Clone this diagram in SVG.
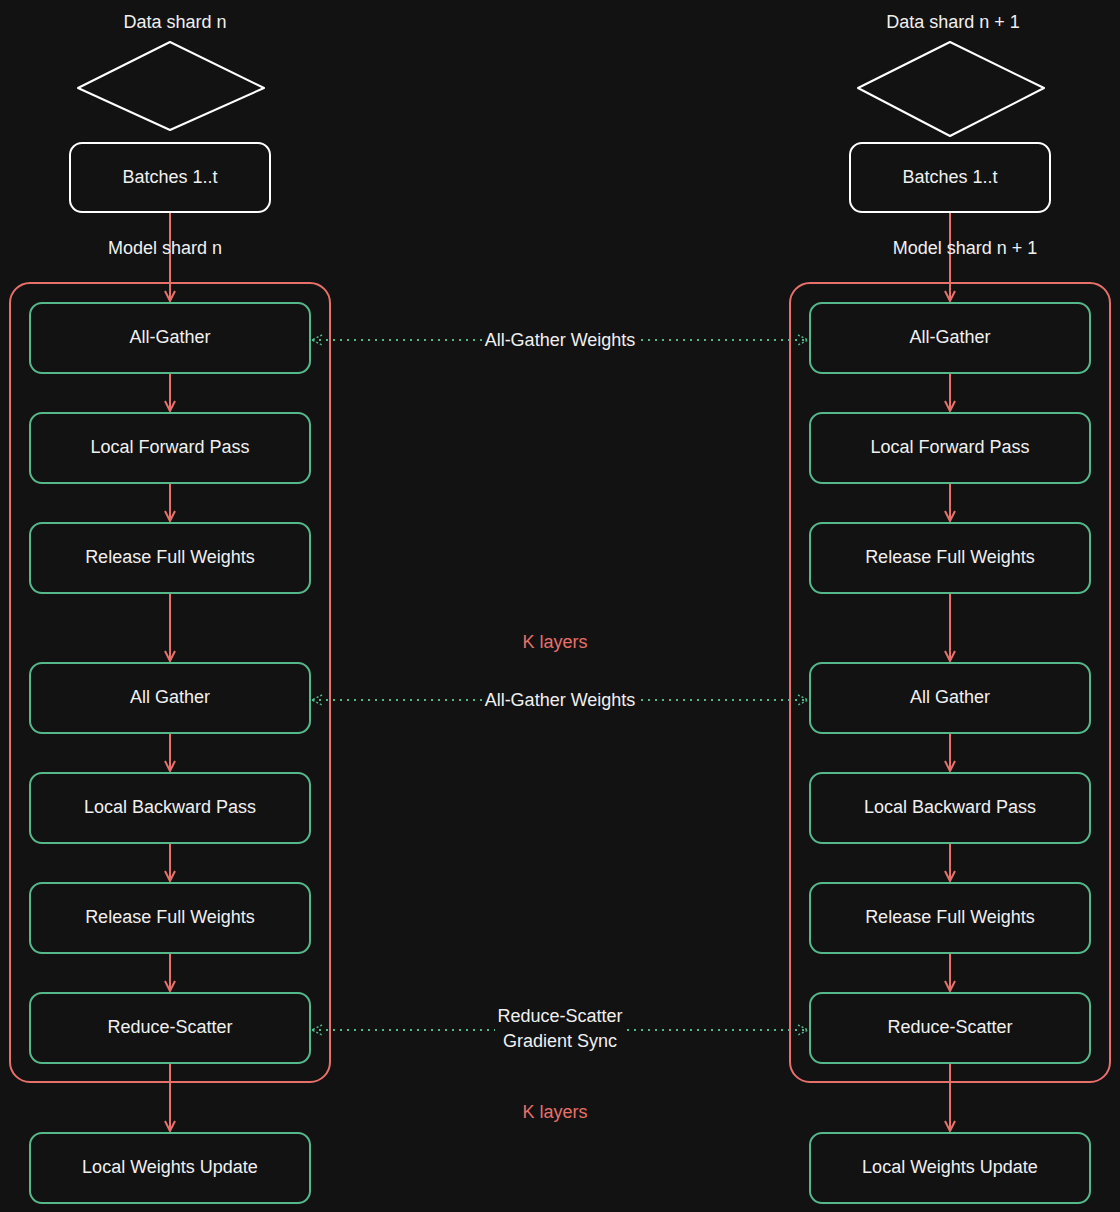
<svg xmlns="http://www.w3.org/2000/svg" width="1120" height="1212" viewBox="0 0 1120 1212">
<defs>
<style>
text{font-family:"Liberation Sans",Arial,sans-serif;font-size:18px;fill:#f0f0f0;text-anchor:middle;dominant-baseline:central}
.g{fill:none;stroke:#55b88a;stroke-width:2}
.r{fill:none;stroke:#e8706a;stroke-width:2}
.w{fill:none;stroke:#ffffff;stroke-width:2}
.a{stroke:#e8706a;stroke-width:2;fill:none;marker-end:url(#ra)}
.d{stroke:#55b88a;stroke-width:2;stroke-dasharray:2 5;fill:none;marker-start:url(#gs);marker-end:url(#ge)}
.k{fill:#e8706a}
</style>
<marker id="ra" viewBox="0 0 12 12" refX="11" refY="6" markerWidth="12" markerHeight="12" markerUnits="userSpaceOnUse" orient="auto"><path d="M1,1 L11,6 L1,11" fill="none" stroke="#e8706a" stroke-width="2"/></marker>
<marker id="ge" viewBox="0 0 12 12" refX="11" refY="6" markerWidth="12" markerHeight="12" markerUnits="userSpaceOnUse" orient="auto"><path d="M1,1 L11,6 L1,11" fill="none" stroke="#55b88a" stroke-width="1.5" stroke-dasharray="2 2"/></marker>
<marker id="gs" viewBox="0 0 12 12" refX="1" refY="6" markerWidth="12" markerHeight="12" markerUnits="userSpaceOnUse" orient="auto"><path d="M11,1 L1,6 L11,11" fill="none" stroke="#55b88a" stroke-width="1.5" stroke-dasharray="2 2"/></marker>
</defs>
<rect width="1120" height="1212" fill="#121212"/>
<g id="containers">
<rect class="r" x="10" y="283" width="320" height="799" rx="20"/>
<rect class="r" x="790" y="283" width="320" height="799" rx="20"/>
</g>
<g id="connectors">
<line class="a" x1="170" y1="212" x2="170" y2="301"/>
<line class="a" x1="950" y1="212" x2="950" y2="301"/>
<line class="a" x1="170" y1="373" x2="170" y2="411"/>
<line class="a" x1="170" y1="483" x2="170" y2="521"/>
<line class="a" x1="170" y1="593" x2="170" y2="661"/>
<line class="a" x1="170" y1="733" x2="170" y2="771"/>
<line class="a" x1="170" y1="843" x2="170" y2="881"/>
<line class="a" x1="170" y1="953" x2="170" y2="991"/>
<line class="a" x1="170" y1="1063" x2="170" y2="1131"/>
<line class="a" x1="950" y1="373" x2="950" y2="411"/>
<line class="a" x1="950" y1="483" x2="950" y2="521"/>
<line class="a" x1="950" y1="593" x2="950" y2="661"/>
<line class="a" x1="950" y1="733" x2="950" y2="771"/>
<line class="a" x1="950" y1="843" x2="950" y2="881"/>
<line class="a" x1="950" y1="953" x2="950" y2="991"/>
<line class="a" x1="950" y1="1063" x2="950" y2="1131"/>
<line class="d" x1="312" y1="340" x2="808" y2="340"/>
<line class="d" x1="312" y1="700" x2="808" y2="700"/>
<line class="d" x1="312" y1="1030" x2="808" y2="1030"/>
<rect x="482" y="328" width="156" height="24" fill="#121212"/>
<rect x="482" y="688" width="156" height="24" fill="#121212"/>
<rect x="495" y="1004" width="130" height="50" fill="#121212"/>
<text x="560" y="340">All-Gather Weights</text>
<text x="560" y="700">All-Gather Weights</text>
<text x="560" y="1016">Reduce-Scatter</text>
<text x="560" y="1041">Gradient Sync</text>
</g>
<g id="labels">
<text x="175" y="22">Data shard n</text>
<text x="953" y="22">Data shard n + 1</text>
<text x="165" y="248">Model shard n</text>
<text x="965" y="248">Model shard n + 1</text>
<text class="k" x="555" y="642">K layers</text>
<text class="k" x="555" y="1112">K layers</text>
</g>
<g id="shard-n"><path class="w" d="M78,88 L170,42 L264,88 L170,130 Z" stroke-linejoin="round"/></g>
<g id="shard-n1"><path class="w" d="M858,88 L950,42 L1044,88 L950,136 Z" stroke-linejoin="round"/></g>
<g id="batches-l"><rect class="w" x="70" y="143" width="200" height="69" rx="12"/><text x="170" y="177">Batches 1..t</text></g>
<g id="batches-r"><rect class="w" x="850" y="143" width="200" height="69" rx="12"/><text x="950" y="177">Batches 1..t</text></g>
<g id="l1"><rect class="g" x="30" y="303" width="280" height="70" rx="12"/><text x="170" y="337">All-Gather</text></g>
<g id="l2"><rect class="g" x="30" y="413" width="280" height="70" rx="12"/><text x="170" y="447">Local Forward Pass</text></g>
<g id="l3"><rect class="g" x="30" y="523" width="280" height="70" rx="12"/><text x="170" y="557">Release Full Weights</text></g>
<g id="l4"><rect class="g" x="30" y="663" width="280" height="70" rx="12"/><text x="170" y="697">All Gather</text></g>
<g id="l5"><rect class="g" x="30" y="773" width="280" height="70" rx="12"/><text x="170" y="807">Local Backward Pass</text></g>
<g id="l6"><rect class="g" x="30" y="883" width="280" height="70" rx="12"/><text x="170" y="917">Release Full Weights</text></g>
<g id="l7"><rect class="g" x="30" y="993" width="280" height="70" rx="12"/><text x="170" y="1027">Reduce-Scatter</text></g>
<g id="l8"><rect class="g" x="30" y="1133" width="280" height="70" rx="12"/><text x="170" y="1167">Local Weights Update</text></g>
<g id="r1"><rect class="g" x="810" y="303" width="280" height="70" rx="12"/><text x="950" y="337">All-Gather</text></g>
<g id="r2"><rect class="g" x="810" y="413" width="280" height="70" rx="12"/><text x="950" y="447">Local Forward Pass</text></g>
<g id="r3"><rect class="g" x="810" y="523" width="280" height="70" rx="12"/><text x="950" y="557">Release Full Weights</text></g>
<g id="r4"><rect class="g" x="810" y="663" width="280" height="70" rx="12"/><text x="950" y="697">All Gather</text></g>
<g id="r5"><rect class="g" x="810" y="773" width="280" height="70" rx="12"/><text x="950" y="807">Local Backward Pass</text></g>
<g id="r6"><rect class="g" x="810" y="883" width="280" height="70" rx="12"/><text x="950" y="917">Release Full Weights</text></g>
<g id="r7"><rect class="g" x="810" y="993" width="280" height="70" rx="12"/><text x="950" y="1027">Reduce-Scatter</text></g>
<g id="r8"><rect class="g" x="810" y="1133" width="280" height="70" rx="12"/><text x="950" y="1167">Local Weights Update</text></g>
</svg>
